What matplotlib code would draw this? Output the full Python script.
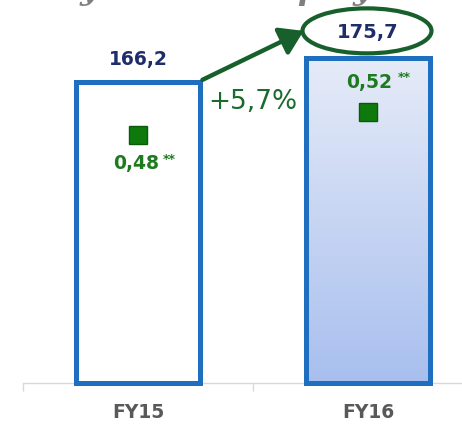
import numpy as np
import matplotlib
matplotlib.use('Agg')
import matplotlib.pyplot as plt
from matplotlib.patches import Ellipse
from matplotlib.colors import LinearSegmentedColormap

# ---- data ----
categories = ['FY15', 'FY16']
revenue = [166.2, 175.7]
revenue_labels = ['166,2', '175,7']
ratio = [0.48, 0.52]
ratio_labels = ['0,48', '0,52']
growth_label = '+5,7%'
title_fragments = ['y', 'p', 'y']   # cropped title, only descenders visible

# ---- layout / style ----
W, H = 462, 427
fig = plt.figure(figsize=(W / 100, H / 100), dpi=100)
ax_left, ax_bottom, ax_w, ax_h = 23, 43, 460, 384
ax = fig.add_axes([ax_left / W, ax_bottom / H, ax_w / W, ax_h / H])
y0, y1 = 47.0, 199.0
ppu = ax_h / (y1 - y0)          # pixels per data unit
def px(p):
    return p / ppu

blue = '#1f6fc1'
navy = '#1f2d6b'
green_txt = '#1e7a1e'
green_dark = '#17602b'
gray = '#595959'

x = np.arange(len(categories))
bw = 0.54
heights = [v - y0 for v in revenue]
bars = ax.bar(x, heights, bottom=y0, width=bw, facecolor='none',
              edgecolor=blue, linewidth=3.6, zorder=3, clip_on=False)
bars[0].set_facecolor('white')

cmap = LinearSegmentedColormap.from_list('g', ['#a8bfee', '#e6ebf8'])
grad = np.linspace(0, 1, 256).reshape(-1, 1)
im = ax.imshow(grad, extent=(x[1] - bw / 2, x[1] + bw / 2, y0, revenue[1]),
               origin='lower', cmap=cmap, aspect='auto', zorder=2)
im.set_clip_path(bars[1])

ax.set_xlim(-0.5, 1.5)
ax.set_ylim(y0, y1)

for s in ['left', 'right', 'top']:
    ax.spines[s].set_visible(False)
ax.spines['bottom'].set_color('#d9d9d9')
ax.spines['bottom'].set_linewidth(1)
ax.set_yticks([])
ax.set_xticks(x, categories)
ax.set_xticks([-0.5, 0.5, 1.5], minor=True)
ax.tick_params(axis='x', which='major', length=0, pad=14,
               labelsize=13.5, labelcolor=gray)
ax.tick_params(axis='x', which='minor', length=6, width=1, color='#d9d9d9')
for t in ax.get_xticklabels():
    t.set_fontweight('bold')

# value labels
val_offsets = [23, 26]
for xi, v, lbl, off in zip(x, revenue, revenue_labels, val_offsets):
    ax.annotate(lbl, xy=(xi, v), xytext=(0, off), textcoords='offset pixels',
                ha='center', va='center', fontsize=13.5 if xi == 0 else 14,
                fontweight='bold', color=navy, zorder=6)

# ellipse around FY16 label
ell_x = x[1] - px(0) * 0 - 1 / 230
ell_y = revenue[1] + px(27)
ell_w = 129 / 230
ell_h = px(45)
ax.add_patch(Ellipse((ell_x, ell_y), ell_w, ell_h, facecolor='none',
                     edgecolor=green_dark, linewidth=3, zorder=6, clip_on=False))

# growth arrow
ax.annotate('', xy=(ell_x - ell_w / 2 + 0.005, ell_y), xytext=(x[0] + bw / 2 + 0.01, revenue[0] + px(2)),
            arrowprops=dict(arrowstyle='-|>,head_length=0.7,head_width=0.45',
                            color=green_dark, lw=3.2, mutation_scale=20,
                            shrinkA=0, shrinkB=0), zorder=6)
ax.text(0.5, y0 + px(ax_h - (102 - 0)), growth_label, ha='center', va='center',
        fontsize=19, color='#1b6b2e', zorder=6)

# secondary axis with ratio markers
ax2 = ax.twinx()
ax2.set_ylim(0.049, 0.717)
ax2.axis('off')
ax2.plot(x, ratio, linestyle='none', marker='s', ms=12.5,
         mfc='#0e7a0e', mec='#0b5a0b', mew=1, zorder=5)
lbl_offsets = [(-2, -27), (1, 31)]
star_offsets = [(31, -23), (36, 36)]
for xi, r, lbl, lo, so in zip(x, ratio, ratio_labels, lbl_offsets, star_offsets):
    ax2.annotate(lbl, xy=(xi, r), xytext=lo, textcoords='offset pixels',
                 ha='center', va='center', fontsize=13.5, fontweight='bold',
                 color=green_txt)
    ax2.annotate('**', xy=(xi, r), xytext=so, textcoords='offset pixels',
                 ha='center', va='center', fontsize=9, fontweight='bold',
                 color=green_txt)

# cropped title fragments
for ch, xp in zip(title_fragments, [89, 308, 362]):
    fig.text(xp / W, 1 + 1 / H, ch, ha='center', va='baseline', fontsize=23,
             family='DejaVu Serif', style='italic', fontweight='bold',
             color='#7f7f7f')

fig.savefig('out.png', dpi=100)
